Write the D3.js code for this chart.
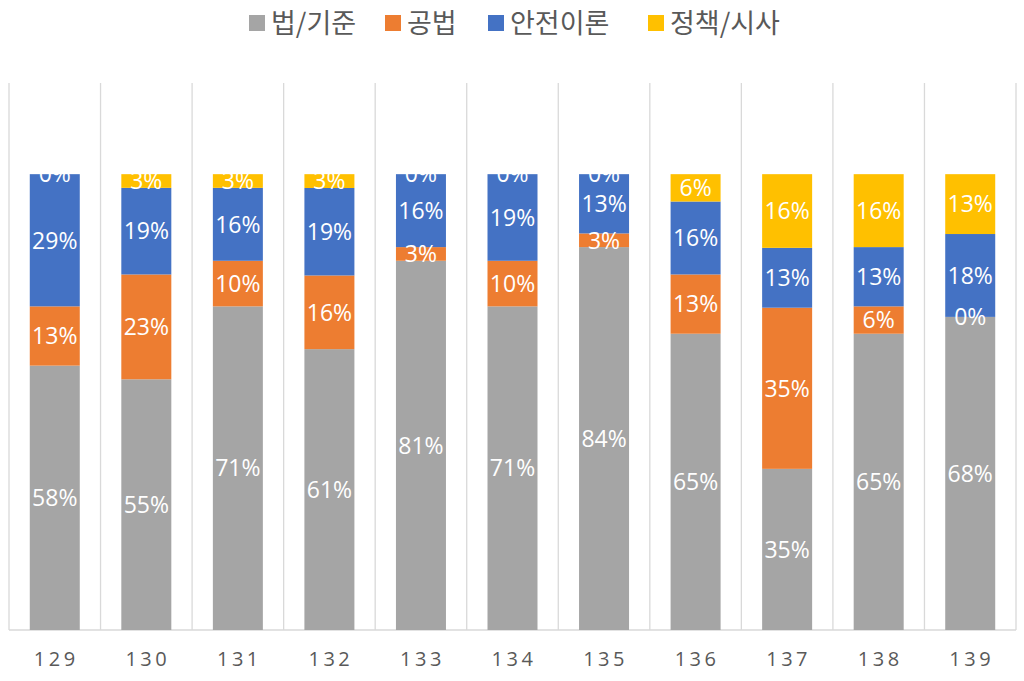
<!DOCTYPE html>
<html><head><meta charset="utf-8">
<script src="https://cdn.jsdelivr.net/npm/d3@7"></script>
<style>body{margin:0;background:#fff}</style>
</head><body>
<svg id="c" width="1024" height="681"></svg>
<script>
const categories = ["129","130","131","132","133","134","135","136","137","138","139"];
const seriesNames = ["법/기준","공법","안전이론","정책/시사"];
const law    = [58,55,71,61,81,71,84,65,35,65,68];
const method = [13,23,10,16,3,10,3,13,35,6,0];
const theory = [29,19,16,19,16,19,13,16,13,13,18];
const policy = [0,3,3,3,0,0,0,6,16,16,13];
const colors = ["#A5A5A5","#ED7D31","#4472C4","#FFC000"];

(function(){
const seriesArrays = [law, method, theory, policy];
const rows = categories.map((c,i)=>{const r={cat:c}; seriesNames.forEach((s,j)=>r[s]=seriesArrays[j][i]); return r;});

const svg = d3.select("#c");
const pLeft=9, pRight=1016, pTop=83, pBottom=630;
const x = d3.scaleBand().domain(categories).range([pLeft,pRight]).paddingInner(0).paddingOuter(0);
const y = d3.scaleLinear().domain([0,1.2]).range([pBottom,pTop]);
const stack = d3.stack().keys(seriesNames).offset(d3.stackOffsetExpand)(rows);

const edges = categories.map(c=>x(c)).concat([pRight]);
svg.append("g").selectAll("line").data(edges).join("line")
  .attr("x1",d=>d).attr("x2",d=>d).attr("y1",pTop).attr("y2",pBottom)
  .attr("stroke","#D9D9D9").attr("stroke-width",1.3);
svg.append("line").attr("x1",pLeft).attr("x2",pRight).attr("y1",pBottom).attr("y2",pBottom)
  .attr("stroke","#D9D9D9").attr("stroke-width",1.3);

const barW = 50;
const g = svg.append("g");
stack.forEach((s,j)=>{
  g.append("g").selectAll("rect").data(s).join("rect")
    .attr("x",d=>x(d.data.cat)+(x.bandwidth()-barW)/2)
    .attr("width",barW)
    .attr("y",d=>y(d[1]))
    .attr("height",d=>y(d[0])-y(d[1]))
    .attr("fill",colors[j]);
});
stack.forEach((s,j)=>{
  g.append("g").selectAll("text").data(s).join("text")
    .attr("x",d=>x(d.data.cat)+x.bandwidth()/2)
    .attr("y",d=>(y(d[0])+y(d[1]))/2)
    .attr("dy","0.36em")
    .attr("text-anchor","middle")
    .attr("fill","#fff")
    .style("font-family","'Open Sans','Noto Sans',sans-serif")
    .style("font-size","23px")
    .text(d=>d.data[seriesNames[j]]+"%");
});

const xAxis = d3.axisBottom(x).tickSize(0).tickPadding(22);
const ax = svg.append("g").attr("transform",`translate(0,${pBottom})`).call(xAxis);
ax.select(".domain").remove();
ax.selectAll("text").attr("fill","#595959").attr("dx","1.5px")
  .style("font-family","'Open Sans','Noto Sans',sans-serif")
  .style("font-size","20px").style("letter-spacing","3.5px");

const legendX = [249,385,488,648];
const lg = svg.append("g");
seriesNames.forEach((s,j)=>{
  lg.append("rect").attr("x",legendX[j]).attr("y",15).attr("width",16).attr("height",16).attr("fill",colors[j]);
  lg.append("text").attr("x",legendX[j]+22).attr("y",23).attr("dy","0.36em")
    .attr("fill","#595959")
    .style("font-family","'Noto Sans CJK KR',sans-serif")
    .style("font-size","27px").text(s);
});
})();
</script>
</body></html>
